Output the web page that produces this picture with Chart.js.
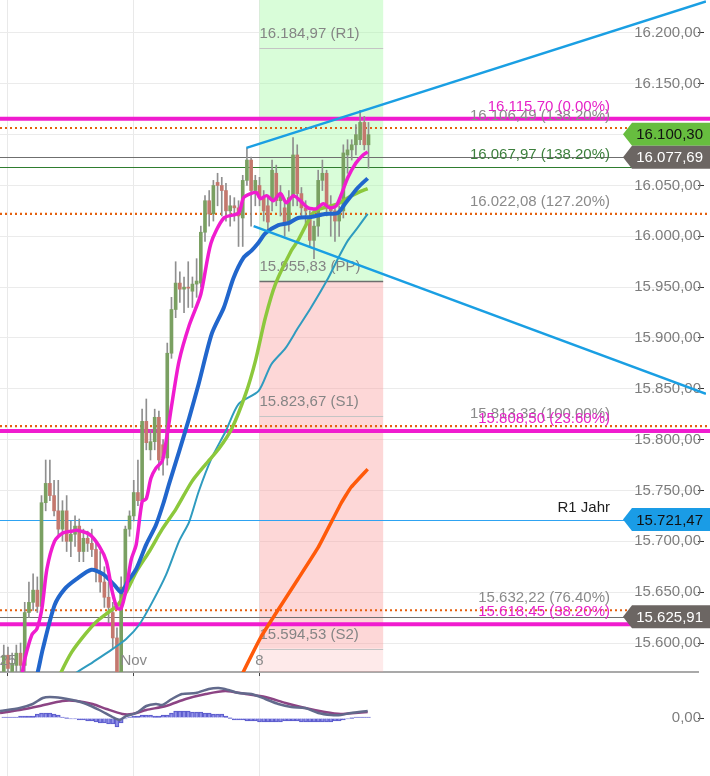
<!doctype html>
<html lang="de">
<head>
<meta charset="utf-8">
<title>DAX</title>
<style>
  * { margin: 0; padding: 0; }
  body { background: #fff; width: 710px; height: 776px; overflow: hidden; }
  canvas { display: block; }
</style>
</head>
<body>
<canvas id="mainChart" width="710" height="676"></canvas>
<canvas id="macdChart" width="710" height="100"></canvas>
<script src="https://cdn.jsdelivr.net/npm/chart.js"></script>
<script>
// x = candle index, 6 candles per trading day (1 = 25 Oct, 31 = 1 Nov, 61 = 8 Nov)
const xTickIdx = [1, 31, 61]
const xTickText = ['25', 'Nov', '8']

const candleOpen = [15572,15588,15572,15578,15590,15578,15630,15640,15652,15636,
  15738,15757,15745,15730,15712,15730,15700,15707,15715,15690,
  15703,15698,15692,15670,15660,15645,15630,15605,15570,15655,
  15712,15725,15748,15740,15818,15790,15798,15822,15795,15782,
  15885,15928,15954,15948,15950,15946,15953,15954,16004,16035,
  16022,16053,16050,16045,16025,16030,16028,16018,16055,16075,
  16045,16050,16038,16030,16035,16062,16035,16028,16012,16038,
  16080,16042,16028,16018,15996,16010,16055,16062,16030,16025,
  16015,16025,16080,16085,16090,16095,16112,16090]
const candleHigh = [15598,15596,15590,15598,15600,15640,15660,15668,15665,15745,
  15780,15780,15760,15760,15740,15745,15720,15725,15722,15712,
  15710,15712,15700,15690,15675,15660,15640,15615,15665,15715,
  15730,15760,15780,15830,15840,15810,15830,15828,15800,15895,
  15940,15975,15965,15960,15975,15960,15978,16010,16040,16045,
  16055,16062,16058,16052,16040,16038,16035,16060,16087,16078,
  16060,16058,16045,16040,16075,16070,16050,16035,16045,16097,
  16090,16048,16035,16025,16015,16065,16075,16065,16040,16030,
  16030,16090,16095,16095,16110,16124,16118,16112]
const candleLow = [15555,15565,15562,15570,15566,15570,15625,15632,15630,15630,
  15730,15740,15725,15705,15700,15690,15685,15695,15680,15680,
  15690,15685,15660,15650,15635,15620,15595,15540,15560,15650,
  15705,15720,15735,15735,15790,15780,15790,15770,15765,15775,
  15880,15920,15935,15925,15930,15930,15940,15950,15995,16010,
  16015,16030,16020,16015,16010,16015,15990,15990,16050,16010,
  16030,16030,16015,16005,16025,16030,16020,16000,16005,16030,
  16030,16020,16010,15990,15978,16000,16045,16020,16000,15995,
  16000,16018,16062,16075,16080,16090,16085,16067]
const candleClose = [15588,15575,15580,15590,15578,15630,15640,15652,15636,15738,
  15757,15745,15730,15712,15730,15700,15707,15715,15690,15703,
  15698,15692,15670,15660,15645,15635,15605,15570,15655,15712,
  15725,15748,15740,15818,15797,15798,15822,15780,15782,15885,
  15928,15954,15948,15950,15949,15953,15956,16004,16035,16022,
  16050,16050,16045,16025,16030,16028,16020,16055,16075,16045,
  16055,16038,16025,16014,16065,16035,16042,16012,16038,16080,
  16042,16028,16025,15996,16010,16055,16062,16030,16025,16015,
  16025,16082,16085,16090,16100,16112,16090,16100]

// moving averages as [candle index, value]
const maPink = [[3.8,15561],[4.3,15568],[5.0,15584],[6.7,15608],[7.9,15614],[9.1,15634],[10.3,15673],
  [12.1,15700],[14.0,15708],[16.2,15710],[17.4,15711],[20.4,15707],[22.8,15695],[24.5,15680],
  [25.9,15650],[27.1,15634],[28.0,15634],[29.2,15653],[30.4,15682],[31.6,15697],[33.0,15739],
  [34.0,15742],[35.1,15762],[36.3,15772],[37.8,15779],[38.9,15803],[40.1,15835],[41.8,15877],
  [44.2,15912],[47.0,15943],[49.4,15993],[52.5,16018],[56.0,16023],[57.2,16038],[58.9,16042],
  [60.3,16043],[61.2,16037],[62.7,16040],[64.3,16035],[66.0,16042],[67.4,16033],[69.1,16040],
  [70.7,16035],[72.6,16028],[74.5,16027],[76.2,16032],[77.8,16028],[79.3,16030],[80.4,16040],
  [82.1,16058],[84.0,16072],[85.7,16080],[86.8,16083]]
const maBlue = [[6.5,15552],[7.9,15568],[9.3,15594],[12.1,15637],[14.5,15653],[17.4,15663],[20.9,15672],
  [23.6,15668],[26.4,15657],[28.0,15650],[29.5,15660],[31.6,15673],[34.0,15697],[36.3,15716],
  [38.2,15739],[39.4,15756],[41.8,15788],[44.2,15821],[46.5,15855],[49.6,15904],[52.5,15930],
  [54.8,15959],[57.2,15979],[59.1,15986],[60.8,15994],[62.4,16003],[65.5,16011],[67.9,16013],
  [70.2,16018],[73.3,16019],[76.6,16022],[79.7,16023],[81.4,16032],[84.5,16048],[86.8,16057]]
const maGreen = [[11.5,15550],[13.3,15568],[16.2,15591],[19.3,15608],[22.1,15621],[25.2,15631],[27.1,15637],
  [29.2,15650],[31.6,15670],[34.7,15690],[37.8,15712],[41.1,15732],[44.9,15759],[48.2,15776],
  [51.3,15791],[54.4,15811],[57.7,15845],[60.0,15877],[62.4,15920],[64.8,15953],[68.6,15986],
  [70.2,15996],[72.6,16015],[74.3,16025],[79.7,16032],[82.1,16038],[84.5,16043],[86.8,16047]]
const maTeal = [[14.0,15555],[16.4,15568],[21.2,15581],[25.9,15594],[29.2,15604],[32.3,15618],[35.4,15640],
  [38.7,15667],[41.8,15700],[44.2,15719],[46.5,15749],[49.6,15782],[52.9,15808],[56.0,15835],
  [60.8,15848],[63.8,15874],[67.2,15890],[70.2,15910],[73.3,15930],[77.4,15959],[79.7,15978],
  [82.1,15996],[84.5,16009],[86.8,16022]]
const orangeLine = [[54.9,15552],[56.7,15568],[61.5,15607],[65.5,15633],[70.2,15663],[75.0,15694],
  [80.4,15737],[82.8,15753],[86.8,15771]]
const trendUpper = [[57.9,16087],[167.5,16231]]
const trendLower = [[59.6,16010],[167.5,15845]]

// horizontal levels
const pinkFibValues = [16115.70, 15808.50, 15618.45]
const pinkFibPct = ['0.00%', '23.60%', '38.20%']
const dotFibValues = [16106.49, 16022.08, 15813.33, 15632.22]
const dotFibPct = ['138.20%', '127.20%', '100.00%', '76.40%']
const greenFibValues = [16067.97]
const greenFibPct = ['138.20%']
const yearLevel = 15721.47
const yearLabel = 'R1 Jahr'
const lastPrice = 16100.30
const grayLevels = [16077.69, 15625.91]

// weekly pivots
const pivotValues = [16184.97, 15955.83, 15823.67, 15594.53]
const pivotNames = ['R1', 'PP', 'S1', 'S2']
const pivotFrom = 61
const pivotTo = 90.5

// MACD panel
const macdLine = [[-0.9,7],[3.8,10],[6.9,14],[9.3,20],[11.0,21],[13.8,20],[16.4,18],[19.7,14],[22.8,8],
  [25.9,1],[27.6,-2],[29.2,2],[31.6,5],[34.0,12],[36.3,14],[37.8,13],[40.1,19],[42.5,24],[45.8,25],
  [48.9,29],[51.3,30],[53.6,28],[56.0,25],[59.1,24],[62.4,19],[65.5,14],[68.6,11],[71.9,10],
  [75.0,5],[78.1,3],[80.4,3],[82.8,5],[86.8,7]]
const signalLine = [[-0.9,5],[3.8,8],[8.6,12],[14.0,17],[17.4,17],[21.2,14],[24.5,9],[28.3,4],[30.6,4],
  [34.0,8],[38.7,12],[43.4,19],[48.2,24],[52.9,27],[57.7,24],[62.4,21],[67.2,15],[71.9,10],
  [76.6,6],[80.4,4],[83.8,5],[86.8,6]]
const macdHist = [1,1,1,1,2,2,2,2,4,5,5,5,4,3,1,0,-1,-1,-2,-2,-3,-3,-4,-5,-5,-6,-6,-9,-5,-1,
  1,2,2,3,3,3,2,2,3,3,5,7,7,7,7,6,6,6,5,5,4,4,4,2,0,-2,-2,-2,-3,-3,-3,
  -4,-4,-4,-4,-4,-4,-3,-3,-3,-3,-4,-4,-4,-4,-4,-4,-4,-4,-3,-3,-2,-1,0,1,1,1,1]

const xMin = -0.9
const xMax = 165.6
const FONT = '15px "Liberation Sans", Arial, sans-serif'

const fmt = v => {
  const parts = v.toFixed(2).split('.')
  return parts[0].replace(/\B(?=(\d{3})+(?!\d))/g, '.') + ',' + parts[1]
}
const pts = arr => arr.map(p => ({ x: p[0], y: p[1] }))
const isUp = candleClose.map((c, i) => c >= candleOpen[i])
const crisp = y => Math.round(y) + 0.5

function hLine(ctx, y, width, color, lw, dash) {
  ctx.save()
  ctx.strokeStyle = color
  ctx.lineWidth = lw
  ctx.setLineDash(dash || [])
  ctx.beginPath()
  ctx.moveTo(0, y)
  ctx.lineTo(width, y)
  ctx.stroke()
  ctx.restore()
}

function priceTag(ctx, y, right, text, fill, color) {
  const h = 23
  ctx.beginPath()
  ctx.moveTo(623, y)
  ctx.lineTo(632, y - h / 2)
  ctx.lineTo(right, y - h / 2)
  ctx.lineTo(right, y + h / 2)
  ctx.lineTo(632, y + h / 2)
  ctx.closePath()
  ctx.fillStyle = fill
  ctx.fill()
  ctx.fillStyle = color
  ctx.font = FONT
  ctx.textAlign = 'right'
  ctx.textBaseline = 'middle'
  ctx.fillText(text, right - 7, y + 1)
}

const overlay = {
  id: 'overlay',
  beforeDatasetsDraw(chart) {
    const { ctx, chartArea: a, scales: { x, y } } = chart
    const W = chart.width
    const x0 = x.getPixelForValue(pivotFrom)
    const x1 = x.getPixelForValue(pivotTo)
    const pp = y.getPixelForValue(pivotValues[1])
    const s2 = y.getPixelForValue(pivotValues[3])
    ctx.save()
    ctx.fillStyle = 'rgba(165, 250, 165, 0.42)'
    ctx.fillRect(x0, a.top, x1 - x0, pp - a.top)
    ctx.fillStyle = 'rgba(250, 160, 160, 0.42)'
    ctx.fillRect(x0, pp, x1 - x0, s2 - pp)
    ctx.fillStyle = 'rgba(250, 160, 160, 0.22)'
    ctx.fillRect(x0, s2, x1 - x0, a.bottom - s2)
    // pivot lines + labels
    ctx.font = FONT
    ctx.textAlign = 'left'
    ctx.textBaseline = 'middle'
    pivotValues.forEach((v, i) => {
      const py = crisp(y.getPixelForValue(v))
      ctx.strokeStyle = i === 1 ? '#6d6d6d' : '#c4c4c4'
      ctx.lineWidth = i === 1 ? 1.5 : 1
      ctx.beginPath()
      ctx.moveTo(x0, py)
      ctx.lineTo(x1, py)
      ctx.stroke()
      ctx.fillStyle = '#858585'
      ctx.fillText(fmt(v) + ' (' + pivotNames[i] + ')', x0, py - 15)
    })
    ctx.restore()
    // levels
    grayLevels.forEach(v => hLine(ctx, crisp(y.getPixelForValue(v)), W, '#6f6f6f', 1))
    greenFibValues.forEach(v => hLine(ctx, crisp(y.getPixelForValue(v)), W, '#2f7d2f', 1))
    hLine(ctx, crisp(y.getPixelForValue(yearLevel)), W, '#2ea3f2', 1)
    dotFibValues.forEach(v => hLine(ctx, y.getPixelForValue(v), W, '#e5600f', 2.2, [2, 3]))
    pinkFibValues.forEach(v => hLine(ctx, y.getPixelForValue(v), W, '#f01ccf', 4))
  },
  afterDatasetsDraw(chart) {
    const { ctx, chartArea: a, scales: { x, y } } = chart
    const lx = a.right - 88
    ctx.save()
    ctx.font = FONT
    ctx.textAlign = 'right'
    ctx.textBaseline = 'middle'
    dotFibValues.forEach((v, i) => {
      ctx.fillStyle = '#8a8a8a'
      ctx.fillText(fmt(v) + ' (' + dotFibPct[i] + ')', lx, y.getPixelForValue(v) - 12)
    })
    greenFibValues.forEach((v, i) => {
      ctx.fillStyle = '#3c7f3c'
      ctx.fillText(fmt(v) + ' (' + greenFibPct[i] + ')', lx, y.getPixelForValue(v) - 12)
    })
    pinkFibValues.forEach((v, i) => {
      ctx.fillStyle = '#e622c8'
      ctx.fillText(fmt(v) + ' (' + pinkFibPct[i] + ')', lx, y.getPixelForValue(v) - 12)
    })
    ctx.fillStyle = '#1e1e1e'
    ctx.fillText(yearLabel, lx, y.getPixelForValue(yearLevel) - 12)
    // x labels sit inside the plot, above the axis line
    ctx.textAlign = 'center'
    ctx.fillStyle = '#8a8a8a'
    xTickIdx.forEach((k, i) => ctx.fillText(xTickText[i], x.getPixelForValue(k), a.bottom - 11))
    ctx.restore()
  },
  afterDraw(chart) {
    const { ctx, scales: { y } } = chart
    const R = chart.width
    ctx.save()
    priceTag(ctx, y.getPixelForValue(lastPrice), R, fmt(lastPrice), '#67bd3f', '#111')
    priceTag(ctx, y.getPixelForValue(grayLevels[0]), R, fmt(grayLevels[0]), '#6c6663', '#fff')
    priceTag(ctx, y.getPixelForValue(yearLevel), R, fmt(yearLevel), '#1a9ce6', '#111')
    priceTag(ctx, y.getPixelForValue(grayLevels[1]), R, fmt(grayLevels[1]), '#6c6663', '#fff')
    ctx.restore()
  }
}

const lineDs = (data, color, width, order, extra) => Object.assign({
  type: 'line', data: pts(data), borderColor: color, borderWidth: width,
  pointRadius: 0, fill: false, tension: 0.25, order: order
}, extra || {})

const xScale = (tickLen, border) => ({
  type: 'linear', min: xMin, max: xMax, offset: false,
  afterBuildTicks: s => { s.ticks = xTickIdx.map(v => ({ value: v })) },
  ticks: { display: false },
  grid: { offset: false, color: '#e9e9e9', drawTicks: tickLen > 0, tickLength: tickLen, tickColor: '#444' },
  border: { display: border, color: '#a9a9a9', width: 2 }
})

new Chart(document.getElementById('mainChart'), {
  type: 'bar',
  data: {
    datasets: [
      lineDs(trendUpper, '#1a9fe3', 2.5, 0, { tension: 0, clip: { left: 0, top: 0, right: 8, bottom: 0 } }),
      lineDs(trendLower, '#1a9fe3', 2.5, 0, { tension: 0, clip: { left: 0, top: 0, right: 8, bottom: 0 } }),
      lineDs(orangeLine, '#ff5a0a', 3.5, 1, { tension: 0.1 }),
      lineDs(maPink, '#f01ccf', 3.5, 2),
      lineDs(maBlue, '#2166cc', 4, 3),
      lineDs(maGreen, '#8cc83c', 3.5, 4),
      lineDs(maTeal, '#2f9bbf', 2, 5),
      {
        type: 'bar', grouped: false, order: 10, barThickness: 3, minBarLength: 1,
        data: candleOpen.map((o, i) => ({ x: i, y: [o, candleClose[i]] })),
        backgroundColor: isUp.map(u => u ? '#7aa062' : '#c4786e')
      },
      {
        type: 'bar', grouped: false, order: 11, barThickness: 1,
        data: candleLow.map((l, i) => ({ x: i, y: [l, candleHigh[i]] })),
        backgroundColor: '#8f8f8f'
      }
    ]
  },
  options: {
    responsive: false,
    animation: false,
    events: [],
    layout: { padding: 0 },
    plugins: { legend: { display: false }, tooltip: { enabled: false } },
    scales: {
      x: xScale(4, true),
      y: {
        type: 'linear', position: 'right', min: 15571.5, max: 16232.4, beginAtZero: false,
        afterBuildTicks: s => { s.ticks = s.ticks.filter(t => Math.abs(t.value % 50) < 0.01) },
        afterFit: s => { s.paddingTop = 0; s.paddingBottom = 0 },
        ticks: { stepSize: 50, mirror: true, padding: 3, color: '#7d7d7d', font: { family: '"Liberation Sans", Arial', size: 15 }, callback: v => fmt(v) },
        grid: { color: '#ebebeb', tickLength: 6, tickColor: '#333' },
        border: { display: false }
      }
    }
  },
  plugins: [overlay]
})

new Chart(document.getElementById('macdChart'), {
  type: 'bar',
  data: {
    datasets: [
      lineDs(macdLine, '#626a8c', 2.5, 0),
      lineDs(signalLine, '#8c4484', 2.5, 1),
      {
        type: 'bar', grouped: false, order: 2, barThickness: 4, minBarLength: 1,
        data: macdHist.map((v, i) => ({ x: i, y: v })),
        backgroundColor: 'rgba(125, 125, 228, 0.8)', borderColor: '#5a5acb', borderWidth: 1
      }
    ]
  },
  options: {
    responsive: false,
    animation: false,
    events: [],
    layout: { padding: 0 },
    plugins: { legend: { display: false }, tooltip: { enabled: false } },
    scales: {
      x: xScale(0, false),
      y: {
        type: 'linear', position: 'right', min: -58, max: 42, beginAtZero: false,
        afterBuildTicks: s => { s.ticks = [{ value: 0 }] },
        afterFit: s => { s.paddingTop = 0; s.paddingBottom = 0 },
        ticks: { mirror: true, padding: 3, color: '#7d7d7d', font: { family: '"Liberation Sans", Arial', size: 15 }, callback: v => fmt(v) },
        grid: { drawOnChartArea: false, tickLength: 6, tickColor: '#333' },
        border: { display: false }
      }
    }
  }
})
</script>
</body>
</html>
